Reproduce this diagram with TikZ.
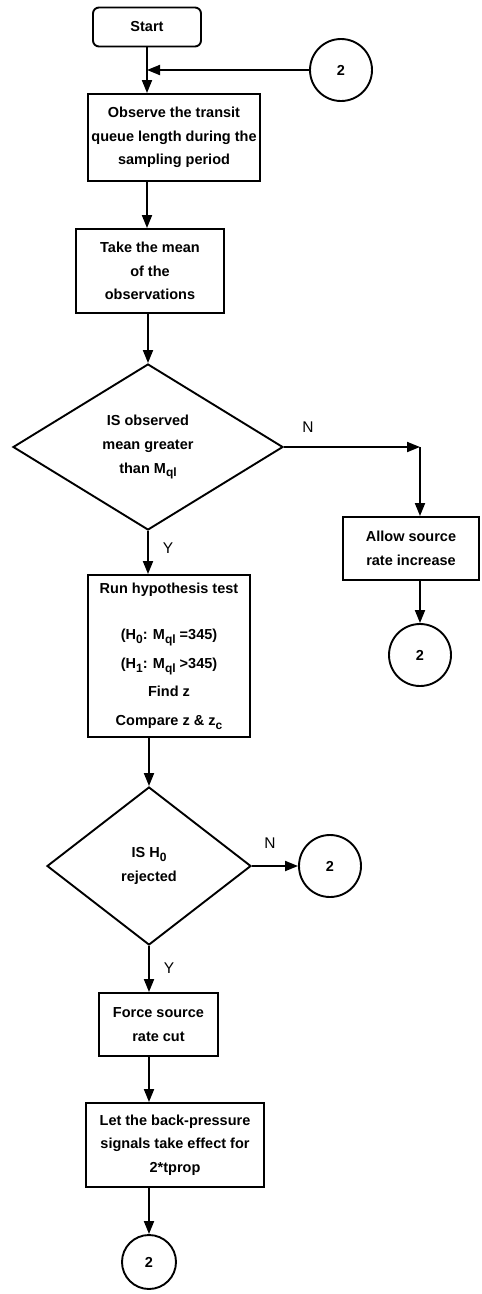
\documentclass[tikz,border=0pt]{standalone}
\usepackage{fontspec}
\setmainfont{Liberation Sans}
\usetikzlibrary{arrows.meta,shapes.geometric}
% lowered subscript in the text face
\newcommand\lowsub[1]{\raisebox{-0.5ex}{\fontsize{12}{12}\selectfont #1}}
\begin{document}
\begin{tikzpicture}[x=1pt,y=-1pt,
  line width=1.9pt,
  procbox/.style={draw, align=center, inner sep=0pt,
    font=\bfseries\fontsize{14.5}{23.5}\selectfont},
  startbox/.style={procbox, rounded corners=6pt},
  decide/.style={draw, diamond, align=center, inner sep=0pt,
    font=\bfseries\fontsize{14.5}{24}\selectfont},
  conn/.style={draw, circle, inner sep=0pt,
    font=\bfseries\fontsize{14.5}{15}\selectfont},
  flow/.style={-{Triangle[length=13pt,width=10pt]}},
  branch/.style={font=\fontsize{15.5}{15.5}\selectfont}]
\useasboundingbox (0,0) rectangle (482,1294);

% main column
\node[startbox, minimum width=108pt, minimum height=39pt] (start) at (147,27) {Start};
\node[conn, minimum size=62pt] (c1) at (341,70) {2};
\node[procbox, minimum width=172pt, minimum height=87pt] (obs) at (174,137.5)
  {Observe the transit\\queue length during the\\sampling period};
\node[procbox, minimum width=148pt, minimum height=84pt] (mean) at (150,271)
  {Take the mean\\of the\\observations};
\node[decide, minimum width=270pt, minimum height=166pt] (d1) at (148,447)
  {IS observed\\mean greater\\than M\lowsub{ql}};
\node[procbox, minimum width=136pt, minimum height=63pt] (allow) at (411,548.5)
  {Allow source\\rate increase};
\node[conn, minimum size=62pt] (c2) at (420,655) {2};
\coordinate (turn) at (420,447);
\node[procbox, minimum width=162pt, minimum height=162pt,
  font=\bfseries\fontsize{14.5}{28.5}\selectfont] (run) at (169,656)
  {Run hypothesis test\\[18pt]
   (H\lowsub{0}: M\lowsub{ql} =345)\\
   (H\lowsub{1}: M\lowsub{ql} >345)\\
   Find z\\
   Compare z \& z\lowsub{c}};
\node[decide, minimum width=204pt, minimum height=158pt] (d2) at (149,866)
  {IS H\lowsub{0}\\rejected};
\node[conn, minimum size=62pt] (c3) at (330,866) {2};
\node[procbox, minimum width=119pt, minimum height=63pt] (force) at (158.5,1024.5)
  {Force source\\rate cut};
\node[procbox, minimum width=178pt, minimum height=84pt] (let) at (175,1145)
  {Let the back-pressure\\signals take effect for\\2*tprop};
\node[conn, minimum size=54pt] (c4) at (149,1262) {2};

% connectors
\draw[flow] (start.south) -- (start.south |- obs.north);
\draw[flow] (c1.west) -- (start.south |- c1.west);
\draw[flow] (start.south |- obs.south) -- (start.south |- mean.north);
\draw[flow] (d1.north |- mean.south) -- (d1.north);
\draw[flow] (d1.east) -- (turn);
\draw[flow] (turn) -- (turn |- allow.north);
\draw[flow] (turn |- allow.south) -- (c2.north);
\draw[flow] (d1.south) -- (d1.south |- run.north);
\draw[flow] (d2.north |- run.south) -- (d2.north);
\draw[flow] (d2.east) -- (c3.west);
\draw[flow] (d2.south) -- (d2.south |- force.north);
\draw[flow] (d2.south |- force.south) -- (d2.south |- let.north);
\draw[flow] (c4.north |- let.south) -- (c4.north);

% branch labels
\node[branch] (n1) at (308,427) {N};
\node[branch] (y1) at (168,548) {Y};
\node[branch] (n2) at (270,843) {N};
\node[branch] (y2) at (169,968) {Y};
\end{tikzpicture}
\end{document}
